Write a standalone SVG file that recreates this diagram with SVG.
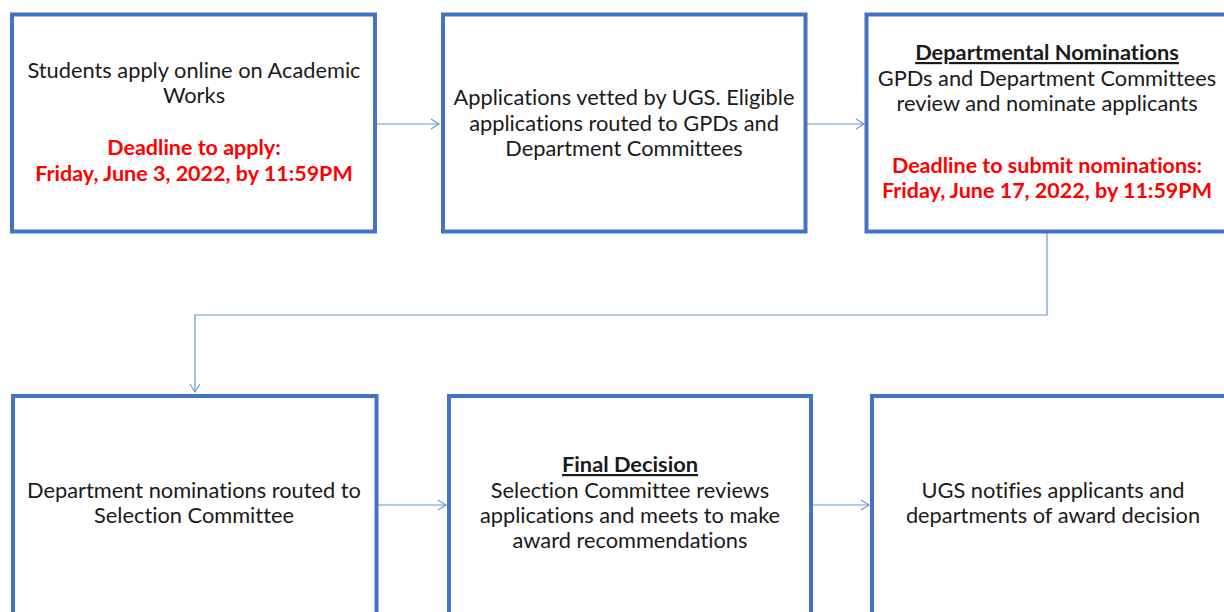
<svg xmlns="http://www.w3.org/2000/svg" width="1224" height="612" viewBox="0 0 1224 612">
<defs>
<marker id="arr" markerUnits="userSpaceOnUse" markerWidth="12" markerHeight="12" refX="9" refY="5.5" orient="auto" overflow="visible">
<path d="M1,0.5 L9,5.5 L1,10.5" fill="none" stroke="#6f93d6" stroke-width="1.1"/>
</marker>
<style>
.box{fill:#fff;stroke:#4472C4;stroke-width:4}
.t{font-family:Lato,"Open Sans",sans-serif;font-size:21.8px;fill:#1a1a1a;text-anchor:middle;font-variant-ligatures:none}
.r{font-family:Lato,"Open Sans",sans-serif;font-size:21.5px;fill:#ff0000;font-weight:bold;text-anchor:middle;font-variant-ligatures:none}
.h{font-weight:bold;text-decoration:underline}
.c{fill:none;stroke:#6f93d6;stroke-width:1.2}
</style>
</defs>
<rect width="1224" height="612" fill="#fff"/>
<g id="connectors">
<path class="c" d="M377 124 H439" marker-end="url(#arr)"/>
<path class="c" d="M807 124 H864" marker-end="url(#arr)"/>
<path class="c" d="M1047 233 V315 H195 V392" marker-end="url(#arr)"/>
<path class="c" d="M378 505 H446" marker-end="url(#arr)"/>
<path class="c" d="M813 505 H869" marker-end="url(#arr)"/>
</g>
<g id="n1">
<rect class="box" x="12" y="14.5" width="363" height="217"/>
<text class="t" x="194" y="78">Students apply online on Academic</text>
<text class="t" x="194" y="103">Works</text>
<text class="r" x="194" y="155">Deadline to apply:</text>
<text class="r" x="194" y="181">Friday, June 3, 2022, by 11:59PM</text>
</g>
<g id="n2">
<rect class="box" x="443" y="14.5" width="362.5" height="217"/>
<text class="t" x="624" y="105">Applications vetted by UGS. Eligible</text>
<text class="t" x="624" y="131">applications routed to GPDs and</text>
<text class="t" x="624" y="156">Department Committees</text>
</g>
<g id="n3">
<rect class="box" x="866.5" y="14.5" width="370" height="217"/>
<text class="t h" x="1047" y="60">Departmental Nominations</text>
<text class="t" x="1047" y="86">GPDs and Department Committees</text>
<text class="t" x="1047" y="111">review and nominate applicants</text>
<text class="r" x="1047" y="173">Deadline to submit nominations:</text>
<text class="r" x="1047" y="198">Friday, June 17, 2022, by 11:59PM</text>
</g>
<g id="n4">
<rect class="box" x="13" y="396" width="363.5" height="230"/>
<text class="t" x="194" y="498">Department nominations routed to</text>
<text class="t" x="194" y="523">Selection Committee</text>
</g>
<g id="n5">
<rect class="box" x="449" y="396" width="362" height="230"/>
<text class="t h" x="630" y="472">Final Decision</text>
<text class="t" x="630" y="498">Selection Committee reviews</text>
<text class="t" x="630" y="523">applications and meets to make</text>
<text class="t" x="630" y="548">award recommendations</text>
</g>
<g id="n6">
<rect class="box" x="872" y="396" width="370" height="230"/>
<text class="t" x="1053" y="498">UGS notifies applicants and</text>
<text class="t" x="1053" y="523">departments of award decision</text>
</g>
</svg>
